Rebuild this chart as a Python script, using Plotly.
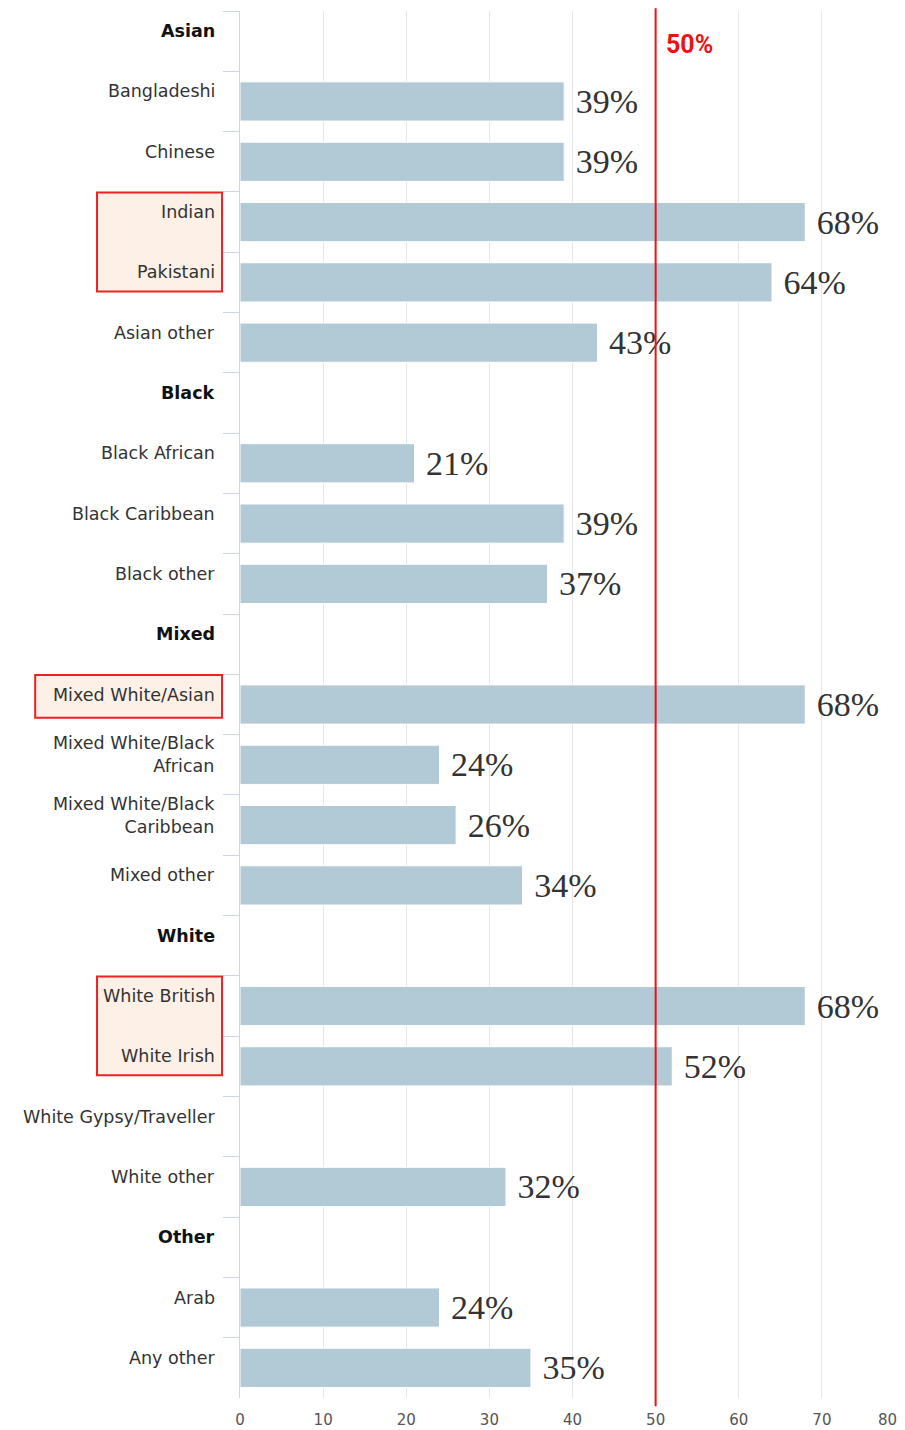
import plotly.graph_objects as go

# rows top to bottom; None = group header / no data
categories = [
    "Asian", "Bangladeshi", "Chinese", "Indian", "Pakistani", "Asian other",
    "Black", "Black African", "Black Caribbean", "Black other",
    "Mixed", "Mixed White/Asian", "Mixed White/Black<br>African",
    "Mixed White/Black<br>Caribbean", "Mixed other",
    "White", "White British", "White Irish", "White Gypsy/Traveller", "White other",
    "Other", "Arab", "Any other",
]
values = [
    None, 39, 39, 68, 64, 43,
    None, 21, 39, 37,
    None, 68, 24, 26, 34,
    None, 68, 52, None, 32,
    None, 24, 35,
]
headers = ["Asian", "Black", "Mixed", "White", "Other"]
x_ticks = [0, 10, 20, 30, 40, 50, 60, 70, 80]
threshold = 50

# highlighted label groups: (first row, last row, left edge in paper units)
highlights = [("Indian", "Pakistani", -0.215),
              ("Mixed White/Asian", "Mixed White/Asian", -0.308),
              ("White British", "White Irish", -0.215)]

tick_font = dict(family="DejaVu Sans", size=15, color="#555555")

fig = go.Figure()

fig.add_trace(go.Bar(
    x=values, y=categories, orientation="h",
    marker=dict(color="#b2c9d6", line=dict(color="#ffffff", width=1)),
    width=0.65,
    texttemplate="\u00a0%{x}%", textposition="outside",
    textfont=dict(family="Liberation Serif", size=34, color="#333333"),
    cliponaxis=False, hoverinfo="skip",
))

# highlight boxes behind labels
for first, last, left in highlights:
    i0 = categories.index(first)
    i1 = categories.index(last)
    fig.add_shape(type="rect", xref="paper", yref="y",
                  x0=left, x1=-0.027, y0=i0 - 0.5 + 0.01, y1=i1 + 0.15 if i1 != i0 else i1 + 0.22,
                  fillcolor="#fdf0e6", line=dict(color="#ee2222", width=2), layer="below")

# category labels, top-aligned in each band
for cat in categories:
    bold = cat in headers
    fig.add_annotation(
        x=0, xref="paper", y=cat, yref="y",
        xanchor="right", xshift=-23, yshift=10, align="right",
        text=f"<b>{cat}</b>" if bold else cat, showarrow=False,
        font=dict(family="DejaVu Sans", size=17.5,
                  color="#111111" if bold else "#333333"),
    )

# 50% reference line
fig.add_shape(type="line", xref="x", yref="paper",
              x0=threshold, x1=threshold, y0=-0.006, y1=1.002,
              line=dict(color="#ee1111", width=2))
fig.add_annotation(x=threshold, xref="x", y=1, yref="paper",
                   xanchor="left", yanchor="top", xshift=8, yshift=-17,
                   text=f"<b>{threshold}%</b>", showarrow=False,
                   font=dict(family="Roboto", size=25, color="#ee1111"))

# last tick label is pulled inside the edge
fig.add_annotation(x=x_ticks[-1], xref="x", y=0, yref="paper",
                   xanchor="right", yanchor="middle", xshift=-6, yshift=-22,
                   text=str(x_ticks[-1]), showarrow=False, font=tick_font)

fig.update_xaxes(range=[0, 80], tickvals=x_ticks[:-1], showgrid=True, gridcolor="#e6e6e6",
                 zeroline=False, showline=False, ticks="", ticklabelstandoff=11,
                 automargin=False, tickfont=tick_font)
fig.update_yaxes(type="category", categoryarray=categories, range=[22.5, -0.5],
                 showticklabels=False, showgrid=False, zeroline=False, automargin=False,
                 showline=True, linecolor="#ccd6eb", linewidth=1,
                 ticks="outside", tickson="boundaries", ticklen=16, tickcolor="#ccd6eb")

# page body has an 8px margin, so the figure is 8px smaller and offset
fig.update_layout(
    width=897, height=1422,
    margin=dict(l=232, r=0, t=3, b=32),
    plot_bgcolor="#ffffff", paper_bgcolor="#ffffff",
    showlegend=False, bargap=0.35,
)

fig.write_html("out.html")
